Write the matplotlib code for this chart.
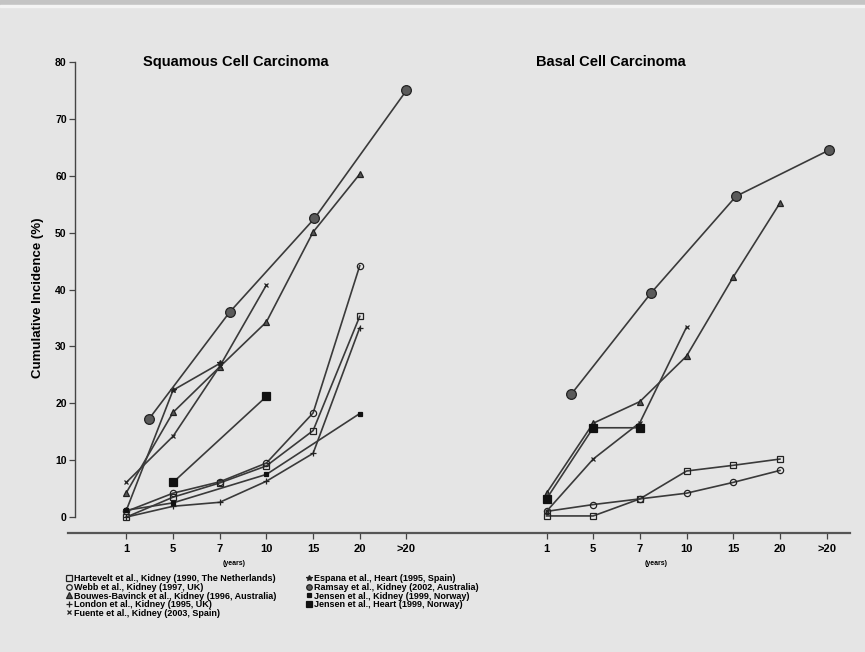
import matplotlib.pyplot as plt
from matplotlib.lines import Line2D
from matplotlib.patches import Rectangle

plt.rcParams['font.family'] = ['Liberation Sans', 'DejaVu Sans']

# 数据：x 为类别位置（0..6 = 1,5,7,10,15,20,>20 年），右图整体偏移
tick_labels = ['1', '5', '7', '10', '15', '20', '>20']
bcc_offset = 9

# 鳞状细胞癌 (SCC)
hart_scc_x = [0, 1, 2, 3, 4, 5]
hart_scc_y = [0, 3.5, 6, 9, 15.2, 35.3]
webb_scc_x = [0, 1, 2, 3, 4, 5]
webb_scc_y = [1, 4.2, 6.2, 9.5, 18.3, 44.2]
bouw_scc_x = [0, 1, 2, 3, 4, 5]
bouw_scc_y = [4.3, 18.4, 26.4, 34.3, 50.1, 60.3]
lond_scc_x = [0, 1, 2, 3, 4, 5]
lond_scc_y = [0, 1.9, 2.6, 6.3, 11.2, 33.3]
fuen_scc_x = [0, 1, 2, 3]
fuen_scc_y = [6.1, 14.2, 26.5, 40.8]
espa_scc_x = [0, 1, 2]
espa_scc_y = [1.2, 22.3, 27.0]
rams_scc_x = [0.49, 2.21, 4.03, 6.0]
rams_scc_y = [17.3, 36.0, 52.5, 75.0]
jenk_scc_x = [0, 1, 3, 5]
jenk_scc_y = [1.2, 2.5, 7.5, 18.2]
jenh_scc_x = [1, 3]
jenh_scc_y = [6.1, 21.2]

# 基底细胞癌 (BCC)
hart_bcc_x = [0, 1, 2, 3, 4, 5]
hart_bcc_y = [0.2, 0.2, 3.2, 8.1, 9.1, 10.2]
webb_bcc_x = [0, 1, 2, 3, 4, 5]
webb_bcc_y = [1.0, 2.2, 3.2, 4.2, 6.1, 8.2]
bouw_bcc_x = [0, 1, 2, 3, 4, 5]
bouw_bcc_y = [4.2, 16.5, 20.3, 28.3, 42.2, 55.2]
fuen_bcc_x = [0, 1, 2, 3]
fuen_bcc_y = [1.0, 10.2, 16.6, 33.4]
rams_bcc_x = [0.53, 2.24, 4.06, 6.05]
rams_bcc_y = [21.6, 39.4, 56.4, 64.5]
jenh_bcc_x = [0, 1, 2]
jenh_bcc_y = [3.2, 15.7, 15.7]

line_c = '#3a3a3a'

# 各研究的标记样式
styles = {
    'Hartevelt et al., Kidney (1990, The Netherlands)': dict(marker='s', ms=4.5, mfc='none', mec='#222'),
    'Webb et al., Kidney (1997, UK)': dict(marker='o', ms=4.5, mfc='none', mec='#222'),
    'Bouwes-Bavinck et al., Kidney (1996, Australia)': dict(marker='^', ms=4, mfc='#555', mec='#222'),
    'London et al., Kidney (1995, UK)': dict(marker='+', ms=4, mec='#222'),
    'Fuente et al., Kidney (2003, Spain)': dict(marker='x', ms=3.5, mec='#222'),
    'Espana et al., Heart (1995, Spain)': dict(marker='*', ms=4, mfc='#222', mec='#222'),
    'Ramsay et al., Kidney (2002, Australia)': dict(marker='o', ms=7, mfc='#5a5a5a', mec='#222'),
    'Jensen et al., Kidney (1999, Norway)': dict(marker='s', ms=3.5, mfc='#111', mec='#111'),
    'Jensen et al., Heart (1999, Norway)': dict(marker='s', ms=5.5, mfc='#111', mec='#111'),
}
names = list(styles.keys())

series = [
    (names[0], hart_scc_x, hart_scc_y), (names[0], hart_bcc_x, hart_bcc_y),
    (names[1], webb_scc_x, webb_scc_y), (names[1], webb_bcc_x, webb_bcc_y),
    (names[2], bouw_scc_x, bouw_scc_y), (names[2], bouw_bcc_x, bouw_bcc_y),
    (names[3], lond_scc_x, lond_scc_y),
    (names[4], fuen_scc_x, fuen_scc_y), (names[4], fuen_bcc_x, fuen_bcc_y),
    (names[5], espa_scc_x, espa_scc_y),
    (names[6], rams_scc_x, rams_scc_y), (names[6], rams_bcc_x, rams_bcc_y),
    (names[7], jenk_scc_x, jenk_scc_y),
    (names[8], jenh_scc_x, jenh_scc_y), (names[8], jenh_bcc_x, jenh_bcc_y),
]
bcc_ids = {id(hart_bcc_x), id(webb_bcc_x), id(bouw_bcc_x), id(fuen_bcc_x),
           id(rams_bcc_x), id(jenh_bcc_x)}

fig = plt.figure(figsize=(8.65, 6.52), dpi=100, facecolor='#e5e5e5')
fig.patches.append(Rectangle((0, 1 - 5 / 652), 1, 5 / 652, transform=fig.transFigure,
                             color='#c4c4c4', zorder=0))
fig.patches.append(Rectangle((0, 1 - 7 / 652), 1, 2 / 652, transform=fig.transFigure,
                             color='#f4f4f4', zorder=0))

ax = fig.add_axes([0.0786, 0.1825, 0.904, 0.7224])
ax.set_facecolor('none')

for name, xs, ys in series:
    off = bcc_offset if id(xs) in bcc_ids else 0
    ax.plot([x + off for x in xs], ys, color=line_c, lw=1.2, mew=0.9, **styles[name])

ax.set_xlim(-1.25, 15.5)
ax.set_ylim(-2.8, 80)

# 坐标轴样式
for s in ['top', 'right']:
    ax.spines[s].set_visible(False)
ax.spines['left'].set_position(('data', -1.1))
ax.spines['left'].set_bounds(0, 80)
ax.spines['left'].set_color('#444')
ax.spines['bottom'].set_color('#555')
ax.spines['left'].set_linewidth(1.0)
ax.spines['bottom'].set_linewidth(1.6)

ax.set_yticks(range(0, 81, 10))
pos = list(range(7)) + [p + bcc_offset for p in range(7)]
ax.set_xticks(pos)
ax.set_xticklabels(tick_labels * 2)
ax.tick_params(axis='both', direction='out', length=4, width=0.9, color='#444',
               labelsize=7.5, pad=2)
ax.tick_params(axis='x', pad=4, labelsize=8)
for lab in ax.get_xticklabels() + ax.get_yticklabels():
    lab.set_fontweight('bold')

ax.set_ylabel('Cumulative Incidence (%)', fontsize=9.5, fontweight='bold', labelpad=8)

ax.text(2.34, 80, 'Squamous Cell Carcinoma', ha='center', va='center',
        fontsize=10.5, fontweight='bold')
ax.text(10.37, 80, 'Basal Cell Carcinoma', ha='center', va='center',
        fontsize=10.5, fontweight='bold')

for xp in [2.3, 11.35]:
    ax.annotate('(years)', xy=(xp, 0), xycoords=('data', 'axes fraction'),
                xytext=(0, -22), textcoords='offset points', ha='center', va='center',
                fontsize=5, fontweight='bold')

# 图例（两列，无框）
handles = [Line2D([], [], linestyle='none', color=line_c, mew=0.9,
                  **{k: v for k, v in styles[n].items() if k != 'ms'},
                  ms=min(styles[n]['ms'], 4)) for n in names]
leg = fig.legend(handles, names, ncol=2, loc='upper left',
                 bbox_to_anchor=(0.077, 0.119), frameon=False,
                 prop={'weight': 'bold', 'size': 6.5}, handlelength=0.5,
                 handletextpad=0.3, labelspacing=-0.05, columnspacing=3.4,
                 borderpad=0, borderaxespad=0)

fig.savefig('out.png', dpi=100, facecolor=fig.get_facecolor())
